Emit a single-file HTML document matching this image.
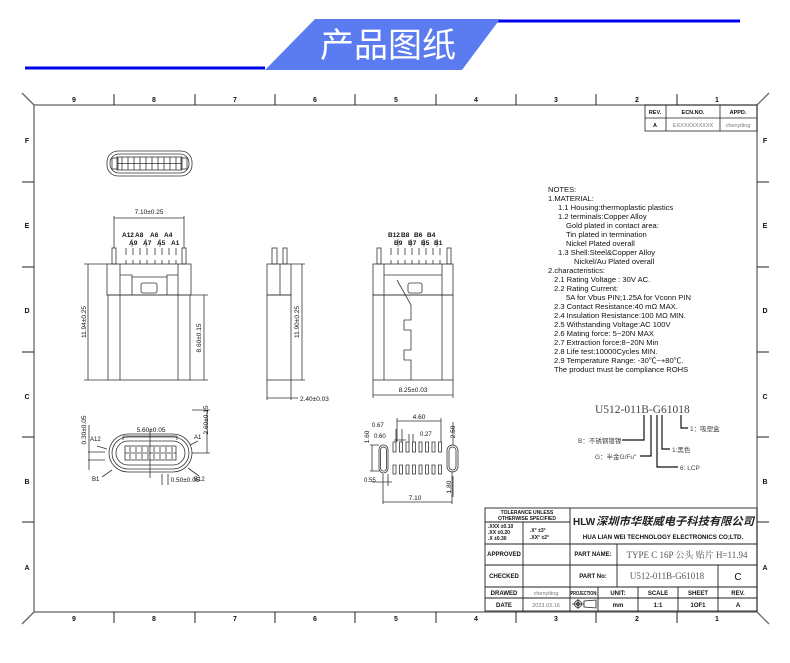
<!DOCTYPE html>
<html><head><meta charset="utf-8"><style>
html,body{margin:0;padding:0;background:#fff}
svg{display:block}
text{font-family:"Liberation Sans","Noto Sans CJK SC",sans-serif;fill:#111}
.t{font-size:6px;font-weight:bold}
.n{font-size:7.6px}
.d{font-size:6.5px}
.g{fill:#777}
</style></head><body>
<svg width="790" height="663" viewBox="0 0 790 663" xmlns="http://www.w3.org/2000/svg">
<line x1="25" y1="68" x2="265" y2="68" stroke="#0000ee" stroke-width="3"/>
<line x1="495" y1="21" x2="740" y2="21" stroke="#0000ee" stroke-width="3"/>
<polygon points="315,19 500,19 462,70 265,70" fill="#5b7cf0"/>
<text x="388" y="57" text-anchor="middle" style="font-size:34px;fill:#fff;font-family:'Noto Sans CJK SC','WenQuanYi Zen Hei',sans-serif">产品图纸</text>

<g stroke="#666" fill="none" stroke-width="1.3">
<rect x="34" y="105" width="723" height="507"/>
<line x1="22" y1="93" x2="34" y2="105"/><line x1="769" y1="93" x2="757" y2="105"/>
<line x1="22" y1="624" x2="34" y2="612"/><line x1="769" y1="624" x2="757" y2="612"/>
</g>
<g stroke="#222" stroke-width="1">
<line x1="114" y1="94" x2="114" y2="105"/><line x1="195" y1="94" x2="195" y2="105"/><line x1="275" y1="94" x2="275" y2="105"/><line x1="355" y1="94" x2="355" y2="105"/><line x1="436" y1="94" x2="436" y2="105"/><line x1="516" y1="94" x2="516" y2="105"/><line x1="596" y1="94" x2="596" y2="105"/><line x1="677" y1="94" x2="677" y2="105"/>
<line x1="114" y1="612" x2="114" y2="623"/><line x1="195" y1="612" x2="195" y2="623"/><line x1="275" y1="612" x2="275" y2="623"/><line x1="355" y1="612" x2="355" y2="623"/><line x1="436" y1="612" x2="436" y2="623"/><line x1="516" y1="612" x2="516" y2="623"/><line x1="596" y1="612" x2="596" y2="623"/><line x1="677" y1="612" x2="677" y2="623"/>
<line x1="22" y1="182" x2="34" y2="182"/><line x1="22" y1="267" x2="34" y2="267"/><line x1="22" y1="352" x2="34" y2="352"/><line x1="22" y1="437" x2="34" y2="437"/><line x1="22" y1="522" x2="34" y2="522"/>
<line x1="757" y1="182" x2="769" y2="182"/><line x1="757" y1="267" x2="769" y2="267"/><line x1="757" y1="352" x2="769" y2="352"/><line x1="757" y1="437" x2="769" y2="437"/><line x1="757" y1="522" x2="769" y2="522"/>
</g>
<g class="t" text-anchor="middle" style="font-size:7px">
<text x="74" y="102">9</text><text x="154" y="102">8</text><text x="235" y="102">7</text><text x="315" y="102">6</text><text x="396" y="102">5</text><text x="476" y="102">4</text><text x="556" y="102">3</text><text x="637" y="102">2</text><text x="717" y="102">1</text>
<text x="74" y="621">9</text><text x="154" y="621">8</text><text x="235" y="621">7</text><text x="315" y="621">6</text><text x="396" y="621">5</text><text x="476" y="621">4</text><text x="556" y="621">3</text><text x="637" y="621">2</text><text x="717" y="621">1</text>
<text x="27" y="143">F</text><text x="27" y="228">E</text><text x="27" y="313">D</text><text x="27" y="399">C</text><text x="27" y="484">B</text><text x="27" y="570">A</text>
<text x="765" y="143">F</text><text x="765" y="228">E</text><text x="765" y="313">D</text><text x="765" y="399">C</text><text x="765" y="484">B</text><text x="765" y="570">A</text>
</g>

<g stroke="#222" fill="none" stroke-width="0.8">
<rect x="645" y="105" width="112" height="26"/><line x1="645" y1="118" x2="757" y2="118"/><line x1="666" y1="105" x2="666" y2="131"/><line x1="720" y1="105" x2="720" y2="131"/>
</g>
<g class="t" text-anchor="middle" style="font-size:5.5px"><text x="655" y="114">REV.</text><text x="693" y="114">ECN.NO.</text><text x="738" y="114">APPD.</text><text x="655" y="127">A</text></g>
<text x="693" y="127" text-anchor="middle" class="g" style="font-size:5.5px">EXXXXXXXXXX</text>
<text x="738" y="127" text-anchor="middle" class="g" style="font-size:5.5px">chenyiting</text>

<g stroke="#333" fill="none" stroke-width="0.8">
<rect x="107" y="151" width="85" height="25" rx="11"/>
<rect x="110" y="154" width="79" height="19" rx="9"/>
<rect x="117" y="157" width="65" height="13"/>
<line x1="117" y1="163.5" x2="182" y2="163.5"/>
<path d="M122 157v13M128 157v13M134 157v13M140 157v13M146 157v13M152 157v13M158 157v13M164 157v13M170 157v13M176 157v13"/>
<rect x="112" y="158" width="6" height="11"/><rect x="181" y="158" width="6" height="11"/>

<rect x="112" y="248" width="4" height="16"/><rect x="182" y="248" width="4" height="16"/>
<rect x="107" y="264" width="84" height="31"/>
<rect x="108" y="295" width="82" height="85"/>
<line x1="120" y1="264" x2="120" y2="380"/><line x1="178" y1="264" x2="178" y2="380"/>
<path d="M120 275H132V295M178 275H167V295M132 275V277H167"/>
<rect x="141" y="283" width="16" height="10" rx="2"/>
<path d="M126 260v4M133 260v4M140 260v4M147 260v4M155 260v4M162 260v4M169 260v4M176 260v4"/>
<path d="M126 248v7M133 248v7M140 248v7M147 248v7M155 248v7M162 248v7M169 248v7M176 248v7"/>
<path d="M114 248V216M184 248V216M114 218H184M88 264V380M84 264H107M84 380H108M204 295V380M190 295H208M190 380H208"/>

<rect x="272" y="248" width="5" height="16"/><rect x="283" y="248" width="4" height="16"/>
<rect x="267" y="264" width="24" height="31"/><line x1="280" y1="264" x2="280" y2="295"/>
<rect x="267" y="295" width="24" height="85"/>
<path d="M291 264H305M291 380H305M302 264V380M267 380V400M291 380V400M267 398H298"/>

<rect x="377" y="248" width="4" height="16"/><rect x="447" y="248" width="4" height="16"/>
<rect x="373" y="264" width="80" height="31"/>
<rect x="373" y="295" width="80" height="85"/>
<line x1="384" y1="264" x2="384" y2="380"/><line x1="442" y1="264" x2="442" y2="380"/>
<path d="M384 275H442"/>
<rect x="408" y="283" width="14" height="10" rx="2"/>
<path d="M397 280L411 305V320H404V330H411V350H404V360H411V380"/>
<path d="M391 260v4M398 260v4M405 260v4M412 260v4M419 260v4M426 260v4M433 260v4M440 260v4"/>
<path d="M391 248v7M398 248v7M405 248v7M412 248v7M419 248v7M426 248v7M433 248v7M440 248v7"/>
<path d="M373 380V398M453 380V398M373 395H453"/>

<rect x="109" y="434" width="83" height="38" rx="19"/>
<rect x="112" y="437" width="77" height="32" rx="16"/>
<rect x="116" y="441" width="69" height="24" rx="12"/>
<rect x="125" y="446" width="51" height="14"/>
<line x1="125" y1="453" x2="176" y2="453"/>
<path d="M130 447v5M136 447v5M142 447v5M148 447v5M154 447v5M160 447v5M166 447v5M172 447v5M130 454v5M136 454v5M142 454v5M148 454v5M154 454v5M160 454v5M166 454v5M172 454v5"/>
<path d="M150 430V478M123 436H177M123 436V440M177 436V440M192 453H210M192 410H210M207 410V453M88 452H105M88 460H105M89 425V470M162 474V485M168 474V485M97 446L107 449M198 441L190 445M102 477L112 470M199 476L188 468"/>

<rect x="379" y="445" width="9" height="28" rx="4.5"/><rect x="380.5" y="447" width="6" height="24" rx="3"/>
<rect x="447" y="445" width="11" height="27" rx="5.5"/><rect x="449" y="447" width="7" height="23" rx="3.5"/>
<path d="M393 442h3v10h-3zM399.5 442h3v10h-3zM406 442h3v10h-3zM412.5 442h3v10h-3zM419 442h3v10h-3zM425.5 442h3v10h-3zM432 442h3v10h-3zM438.5 442h3v10h-3z"/>
<path d="M393 465h3v9h-3zM399.5 465h3v9h-3zM406 465h3v9h-3zM412.5 465h3v9h-3zM419 465h3v9h-3zM425.5 465h3v9h-3zM432 465h3v9h-3zM438.5 465h3v9h-3z"/>
<path d="M397 421H441M397 418V442M441 418V442M383 474V504M452 472V504M383 502H452M370 445H379M370 471H379M372 445V471M372 482H392M383 474V486M388 474V486M396 429V442M402 429V442M394 440H406M409 434V442M413 434V442M453 422V445M453 476V497"/>
</g>

<g class="d" text-anchor="middle">
<text x="149" y="214">7.10±0.25</text>
<text x="413" y="392">8.25±0.03</text>
<text x="151" y="432">5.60±0.05</text>
<text x="185" y="482">0.50±0.05</text>
<text x="419" y="419">4.60</text>
<text x="415" y="500">7.10</text>
</g>
<text x="300" y="401" class="d">2.40±0.03</text>
<text class="d" transform="translate(86,322) rotate(-90)" text-anchor="middle">11.94±0.25</text>
<text class="d" transform="translate(201,338) rotate(-90)" text-anchor="middle">8.60±0.15</text>
<text class="d" transform="translate(299,322) rotate(-90)" text-anchor="middle">11.90±0.25</text>
<text class="d" transform="translate(86,430) rotate(-90)" text-anchor="middle">0.30±0.05</text>
<text class="d" transform="translate(208,420) rotate(-90)" text-anchor="middle">2.60±0.15</text>
<text class="d" transform="translate(369,437) rotate(-90)" text-anchor="middle">1.60</text>
<text class="d" transform="translate(455,432) rotate(-90)" text-anchor="middle">2.50</text>
<text class="d" transform="translate(451,487) rotate(-90)" text-anchor="middle">1.80</text>
<g class="d" style="font-size:6px">
<text x="372" y="427">0.67</text><text x="374" y="438">0.60</text><text x="420" y="436">0.27</text><text x="364" y="482">0.55</text>
<text x="90" y="441">A12</text><text x="194" y="439">A1</text><text x="92" y="481">B1</text><text x="194" y="481">B12</text>
</g>
<g class="t" style="font-size:6.5px">
<text x="122" y="237">A12</text><text x="135" y="237">A8</text><text x="150" y="237">A6</text><text x="164" y="237">A4</text>
<text x="129" y="245">A9</text><text x="143" y="245">A7</text><text x="157" y="245">A5</text><text x="171" y="245">A1</text>
<text x="388" y="237">B12</text><text x="401" y="237">B8</text><text x="414" y="237">B6</text><text x="427" y="237">B4</text>
<text x="394" y="245">B9</text><text x="408" y="245">B7</text><text x="421" y="245">B5</text><text x="434" y="245">B1</text>
</g>
<g stroke="#333" stroke-width="0.6"><line x1="132" y1="239" x2="132" y2="247"/><line x1="146" y1="239" x2="146" y2="247"/><line x1="160" y1="239" x2="160" y2="247"/><line x1="398" y1="239" x2="398" y2="247"/><line x1="411" y1="239" x2="411" y2="247"/><line x1="424" y1="239" x2="424" y2="247"/><line x1="437" y1="239" x2="437" y2="247"/></g>

<g class="n">
<text x="548" y="192">NOTES:</text>
<text x="548" y="201">1.MATERIAL:</text>
<text x="558" y="210">1.1  Housing:thermoplastic plastics</text>
<text x="558" y="219">1.2  terminals:Copper Alloy</text>
<text x="566" y="228">Gold plated in contact area:</text>
<text x="566" y="237">Tin plated in termination</text>
<text x="566" y="246">Nickel Plated overall</text>
<text x="558" y="255">1.3  Shell:Steel&amp;Copper Alloy</text>
<text x="574" y="264">Nickel/Au Plated overall</text>
<text x="548" y="273">2.characteristics:</text>
<text x="554" y="282">2.1  Rating Voltage : 30V AC.</text>
<text x="554" y="291">2.2  Rating Current:</text>
<text x="566" y="300">5A for Vbus PIN;1.25A for Vconn PIN</text>
<text x="554" y="309">2.3  Contact Resistance:40 mΩ MAX.</text>
<text x="554" y="318">2.4  Insulation Resistance:100 MΩ MIN.</text>
<text x="554" y="327">2.5  Withstanding Voltage:AC 100V</text>
<text x="554" y="336">2.6  Mating force: 5~20N MAX</text>
<text x="554" y="345">2.7  Extraction force:8~20N Min</text>
<text x="554" y="354">2.8  Life test:10000Cycles MIN.</text>
<text x="554" y="363">2.9  Temperature Range: -30℃~+80℃.</text>
<text x="554" y="372">The product must be compliance ROHS</text>
</g>

<text x="595" y="413" style="font-family:'Liberation Serif',serif;font-size:11.5px;fill:#444">U512-011B-G61018</text>
<g stroke="#111" stroke-width="1.2" fill="none">
<path d="M644 415V440H622M651 415V456H640M657 415V467H678M662 415V449H670M681 415V428H688"/>
</g>
<g style="font-size:6.5px;font-family:'Noto Serif CJK SC','Liberation Serif',serif">
<text x="690" y="431" style="fill:#444">1：吸塑盒</text>
<text x="578" y="443" style="fill:#444">B：不锈钢镀镍</text>
<text x="672" y="452" style="fill:#444">1:黑色</text>
<text x="595" y="459" style="fill:#444">G：半金G/Fu"</text>
<text x="680" y="470" style="fill:#444">6: LCP</text>
</g>

<g stroke="#222" fill="none" stroke-width="0.9">
<rect x="485" y="508" width="272" height="103"/>
<line x1="570" y1="508" x2="570" y2="611"/>
<line x1="485" y1="522" x2="570" y2="522"/>
<line x1="523" y1="522" x2="523" y2="598"/>
<line x1="485" y1="544" x2="757" y2="544"/>
<line x1="485" y1="565" x2="757" y2="565"/>
<line x1="485" y1="587" x2="757" y2="587"/>
<line x1="485" y1="598" x2="757" y2="598"/>
<line x1="617" y1="544" x2="617" y2="587"/>
<line x1="718" y1="565" x2="718" y2="611"/>
<line x1="598" y1="587" x2="598" y2="611"/>
<line x1="638" y1="587" x2="638" y2="611"/>
<line x1="678" y1="587" x2="678" y2="611"/>
<line x1="523" y1="598" x2="523" y2="611"/>
</g>
<g class="t" text-anchor="middle" style="font-size:5px">
<text x="527" y="514">TOLERANCE UNLESS</text><text x="527" y="520">OTHERWISE SPECIFIED</text>
<text x="504" y="556" style="font-size:6px">APPROVED</text>
<text x="504" y="578" style="font-size:6px">CHECKED</text>
<text x="504" y="595" style="font-size:6px">DRAWED</text>
<text x="504" y="607" style="font-size:6px">DATE</text>
<text x="593" y="556" style="font-size:6px">PART NAME:</text>
<text x="593" y="578" style="font-size:6px">PART No:</text>
<text x="584" y="595" style="font-size:5px" textLength="27" lengthAdjust="spacingAndGlyphs">PROJECTION:</text>
<text x="618" y="595" style="font-size:6px">UNIT:</text>
<text x="658" y="595" style="font-size:6px">SCALE</text>
<text x="698" y="595" style="font-size:6px">SHEET</text>
<text x="738" y="595" style="font-size:6px">REV.</text>
<text x="618" y="607" style="font-size:6px">mm</text>
<text x="658" y="607" style="font-size:6px">1:1</text>
<text x="698" y="607" style="font-size:6px">1OF1</text>
<text x="738" y="607" style="font-size:6px">A</text>
</g>
<g class="t" style="font-size:5px"><text x="488" y="528">.XXX ±0.10</text><text x="488" y="534">.XX  ±0.20</text><text x="488" y="540">.X   ±0.30</text><text x="530" y="532">.X° ±3°</text><text x="530" y="539">.XX° ±2°</text></g>
<text x="546" y="595" class="g" style="font-size:5.5px" text-anchor="middle">chenyiting</text>
<text x="546" y="607" class="g" style="font-size:5.5px" text-anchor="middle">2023.03.16</text>
<text x="573" y="525" style="font-size:10px;font-weight:bold;fill:#222">HLW</text>
<text x="596" y="525" textLength="158" lengthAdjust="spacingAndGlyphs" style="font-size:11px;font-weight:bold;font-style:italic;fill:#222;font-family:'Noto Sans CJK SC',sans-serif">深圳市华联威电子科技有限公司</text>
<text x="663" y="539" text-anchor="middle" class="t" style="font-size:6.2px">HUA LIAN WEI TECHNOLOGY ELECTRONICS CO;LTD.</text>
<text x="687" y="558" text-anchor="middle" style="font-family:'Liberation Serif','Noto Serif CJK SC',serif;font-size:9px;fill:#555">TYPE C 16P 公头 贴片 H=11.94</text>
<text x="667" y="579" text-anchor="middle" style="font-family:'Liberation Serif',serif;font-size:9px;fill:#555">U512-011B-G61018</text>
<text x="738" y="580" text-anchor="middle" style="font-size:10px">C</text>
<g stroke="#222" fill="none" stroke-width="0.8"><circle cx="578" cy="604" r="3.5"/><circle cx="578" cy="604" r="1.5"/><line x1="572" y1="604" x2="584" y2="604"/><line x1="578" y1="599" x2="578" y2="609"/><path d="M584 601L596 600V608L584 607Z"/></g>
</svg>
</body></html>
